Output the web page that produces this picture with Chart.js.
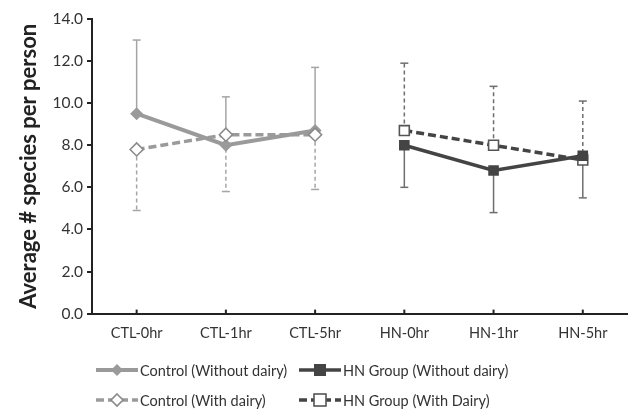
<!DOCTYPE html>
<html>
<head>
<meta charset="utf-8">
<script src="https://cdn.jsdelivr.net/npm/chart.js@4"></script>
<style>
  body { margin: 0; background: #fff; }
  #wrap { position: relative; width: 636px; height: 412px; }
  #legend { position: absolute; left: 0; top: 0; width: 636px; height: 412px; pointer-events: none;
            font-family: Lato, "Open Sans", sans-serif; font-size: 14.5px; color: #333; }
  .item { position: absolute; display: flex; align-items: center; white-space: nowrap; }
  .item svg { margin-right: 1px; }
</style>
</head>
<body>
<div id="wrap">
  <canvas id="chart" width="636" height="412"></canvas>
  <div id="legend"></div>
</div>
<script>
const categories = ["CTL-0hr", "CTL-1hr", "CTL-5hr", "HN-0hr", "HN-1hr", "HN-5hr"];
const yTicks = [0, 2, 4, 6, 8, 10, 12, 14];

const ctlWithout = [9.5, 8.0, 8.7, null, null, null];
const ctlWithoutErr = [3.5, 2.3, 3.0, null, null, null];
const ctlWith = [7.8, 8.5, 8.5, null, null, null];
const ctlWithErr = [2.9, 2.7, 2.6, null, null, null];
const hnWithout = [null, null, null, 8.0, 6.8, 7.5];
const hnWithoutErr = [null, null, null, 2.0, 2.0, 2.0];
const hnWith = [null, null, null, 8.7, 8.0, 7.3];
const hnWithErr = [null, null, null, 3.2, 2.8, 2.8];

const LIGHT = "#9a9a9a";
const DARK = "#444444";

// datasets: index 0 is drawn on top
const datasets = [
  {
    label: "HN Group (Without dairy)", data: hnWithout, err: hnWithoutErr, errDir: -1,
    errColor: "#6e6e6e", errDash: [],
    borderColor: DARK, backgroundColor: DARK, borderWidth: 3.5,
    pointStyle: "rect", pointRadius: 7.5, pointBorderWidth: 0, pointBackgroundColor: DARK
  },
  {
    label: "HN Group (With Dairy)", data: hnWith, err: hnWithErr, errDir: 1,
    errColor: "#6e6e6e", errDash: [4, 3],
    borderColor: DARK, backgroundColor: "#fff", borderWidth: 3.5, borderDash: [8, 4],
    pointStyle: "rect", pointRadius: 7, pointBorderWidth: 1.6, pointBorderColor: "#555",
    pointBackgroundColor: "#fff"
  },
  {
    label: "Control (With dairy)", data: ctlWith, err: ctlWithErr, errDir: -1,
    errColor: "#a5a5a5", errDash: [4, 3],
    borderColor: LIGHT, backgroundColor: "#fff", borderWidth: 3.5, borderDash: [8, 4],
    pointStyle: "rectRot", pointRadius: 6.5, pointBorderWidth: 1.6, pointBorderColor: "#8a8a8a",
    pointBackgroundColor: "#fff"
  },
  {
    label: "Control (Without dairy)", data: ctlWithout, err: ctlWithoutErr, errDir: 1,
    errColor: "#a5a5a5", errDash: [],
    borderColor: LIGHT, backgroundColor: LIGHT, borderWidth: 4,
    pointStyle: "rectRot", pointRadius: 6.5, pointBorderWidth: 0, pointBackgroundColor: LIGHT
  }
];

const errorBars = {
  id: "errorBars",
  beforeDatasetsDraw(chart) {
    const ctx = chart.ctx;
    const y = chart.scales.y;
    chart.data.datasets.forEach((ds, i) => {
      const meta = chart.getDatasetMeta(i);
      ds.data.forEach((v, j) => {
        if (v == null || ds.err[j] == null) return;
        const pt = meta.data[j];
        const y0 = y.getPixelForValue(v);
        const y1 = y.getPixelForValue(v + ds.errDir * ds.err[j]);
        ctx.save();
        ctx.strokeStyle = ds.errColor;
        ctx.lineWidth = 1.5;
        ctx.setLineDash(ds.errDash);
        ctx.beginPath();
        ctx.moveTo(pt.x, y0);
        ctx.lineTo(pt.x, y1);
        ctx.stroke();
        ctx.setLineDash([]);
        ctx.beginPath();
        ctx.moveTo(pt.x - 4, y1);
        ctx.lineTo(pt.x + 4, y1);
        ctx.stroke();
        ctx.restore();
      });
    });
  },
  afterDraw(chart) {
    // small inner tick marks on the category axis
    const ctx = chart.ctx;
    const x = chart.scales.x;
    const bottom = chart.chartArea.bottom;
    ctx.save();
    ctx.strokeStyle = "#222";
    ctx.lineWidth = 2;
    categories.forEach((c, i) => {
      const px = x.getPixelForValue(i);
      ctx.beginPath();
      ctx.moveTo(px, bottom);
      ctx.lineTo(px, bottom - 4);
      ctx.stroke();
    });
    ctx.restore();
  }
};

const chart = new Chart(document.getElementById("chart").getContext("2d"), {
  type: "line",
  data: { labels: categories, datasets: datasets },
  options: {
    responsive: false,
    animation: false,
    spanGaps: false,
    layout: { padding: { top: 19, right: 4, bottom: 67, left: 12 } },
    plugins: { legend: { display: false }, tooltip: { enabled: false } },
    scales: {
      x: {
        offset: true,
        grid: { display: false },
        border: { color: "#222", width: 2 },
        ticks: { color: "#333", font: { family: "Lato", size: 14.5 }, padding: 3 }
      },
      y: {
        min: 0, max: 14,
        afterBuildTicks(scale) { scale.ticks = yTicks.map(v => ({ value: v })); },
        grid: { drawOnChartArea: false, drawTicks: true, tickLength: 5, color: "#222", lineWidth: 2 },
        border: { color: "#222", width: 2 },
        ticks: { color: "#333", font: { family: "Lato", size: 15.5 }, padding: 4,
                 callback: v => v.toFixed(1) },
        title: { display: true, text: "Average # species per person", color: "#222",
                 font: { family: "Lato", size: 22, weight: "bold" }, padding: { bottom: 6 } }
      }
    }
  },
  plugins: [errorBars]
});

// HTML legend, 2 columns x 2 rows
const legendItems = [
  { ds: 3, left: 95, top: 359 },
  { ds: 0, left: 298, top: 359 },
  { ds: 2, left: 95, top: 389 },
  { ds: 1, left: 298, top: 389 }
];
const legend = document.getElementById("legend");
legendItems.forEach(it => {
  const ds = datasets[it.ds];
  const dash = ds.borderDash ? `stroke-dasharray="${ds.borderDash.join(" ")}"` : "";
  let marker;
  if (ds.pointStyle === "rectRot") {
    marker = `<polygon points="22,5 28,11 22,17 16,11" fill="${ds.pointBackgroundColor}" stroke="${ds.pointBorderColor || 'none'}" stroke-width="${ds.pointBorderWidth || 0}"/>`;
  } else {
    marker = `<rect x="16" y="5" width="12" height="12" fill="${ds.pointBackgroundColor}" stroke="${ds.pointBorderColor || 'none'}" stroke-width="${ds.pointBorderWidth || 0}"/>`;
  }
  const div = document.createElement("div");
  div.className = "item";
  div.style.left = it.left + "px";
  div.style.top = it.top + "px";
  div.innerHTML = `<svg width="44" height="22"><line x1="1" y1="11" x2="43" y2="11" stroke="${ds.borderColor}" stroke-width="${ds.borderWidth}" ${dash}/>${marker}</svg><span>${ds.label}</span>`;
  legend.appendChild(div);
});
</script>
</body>
</html>
